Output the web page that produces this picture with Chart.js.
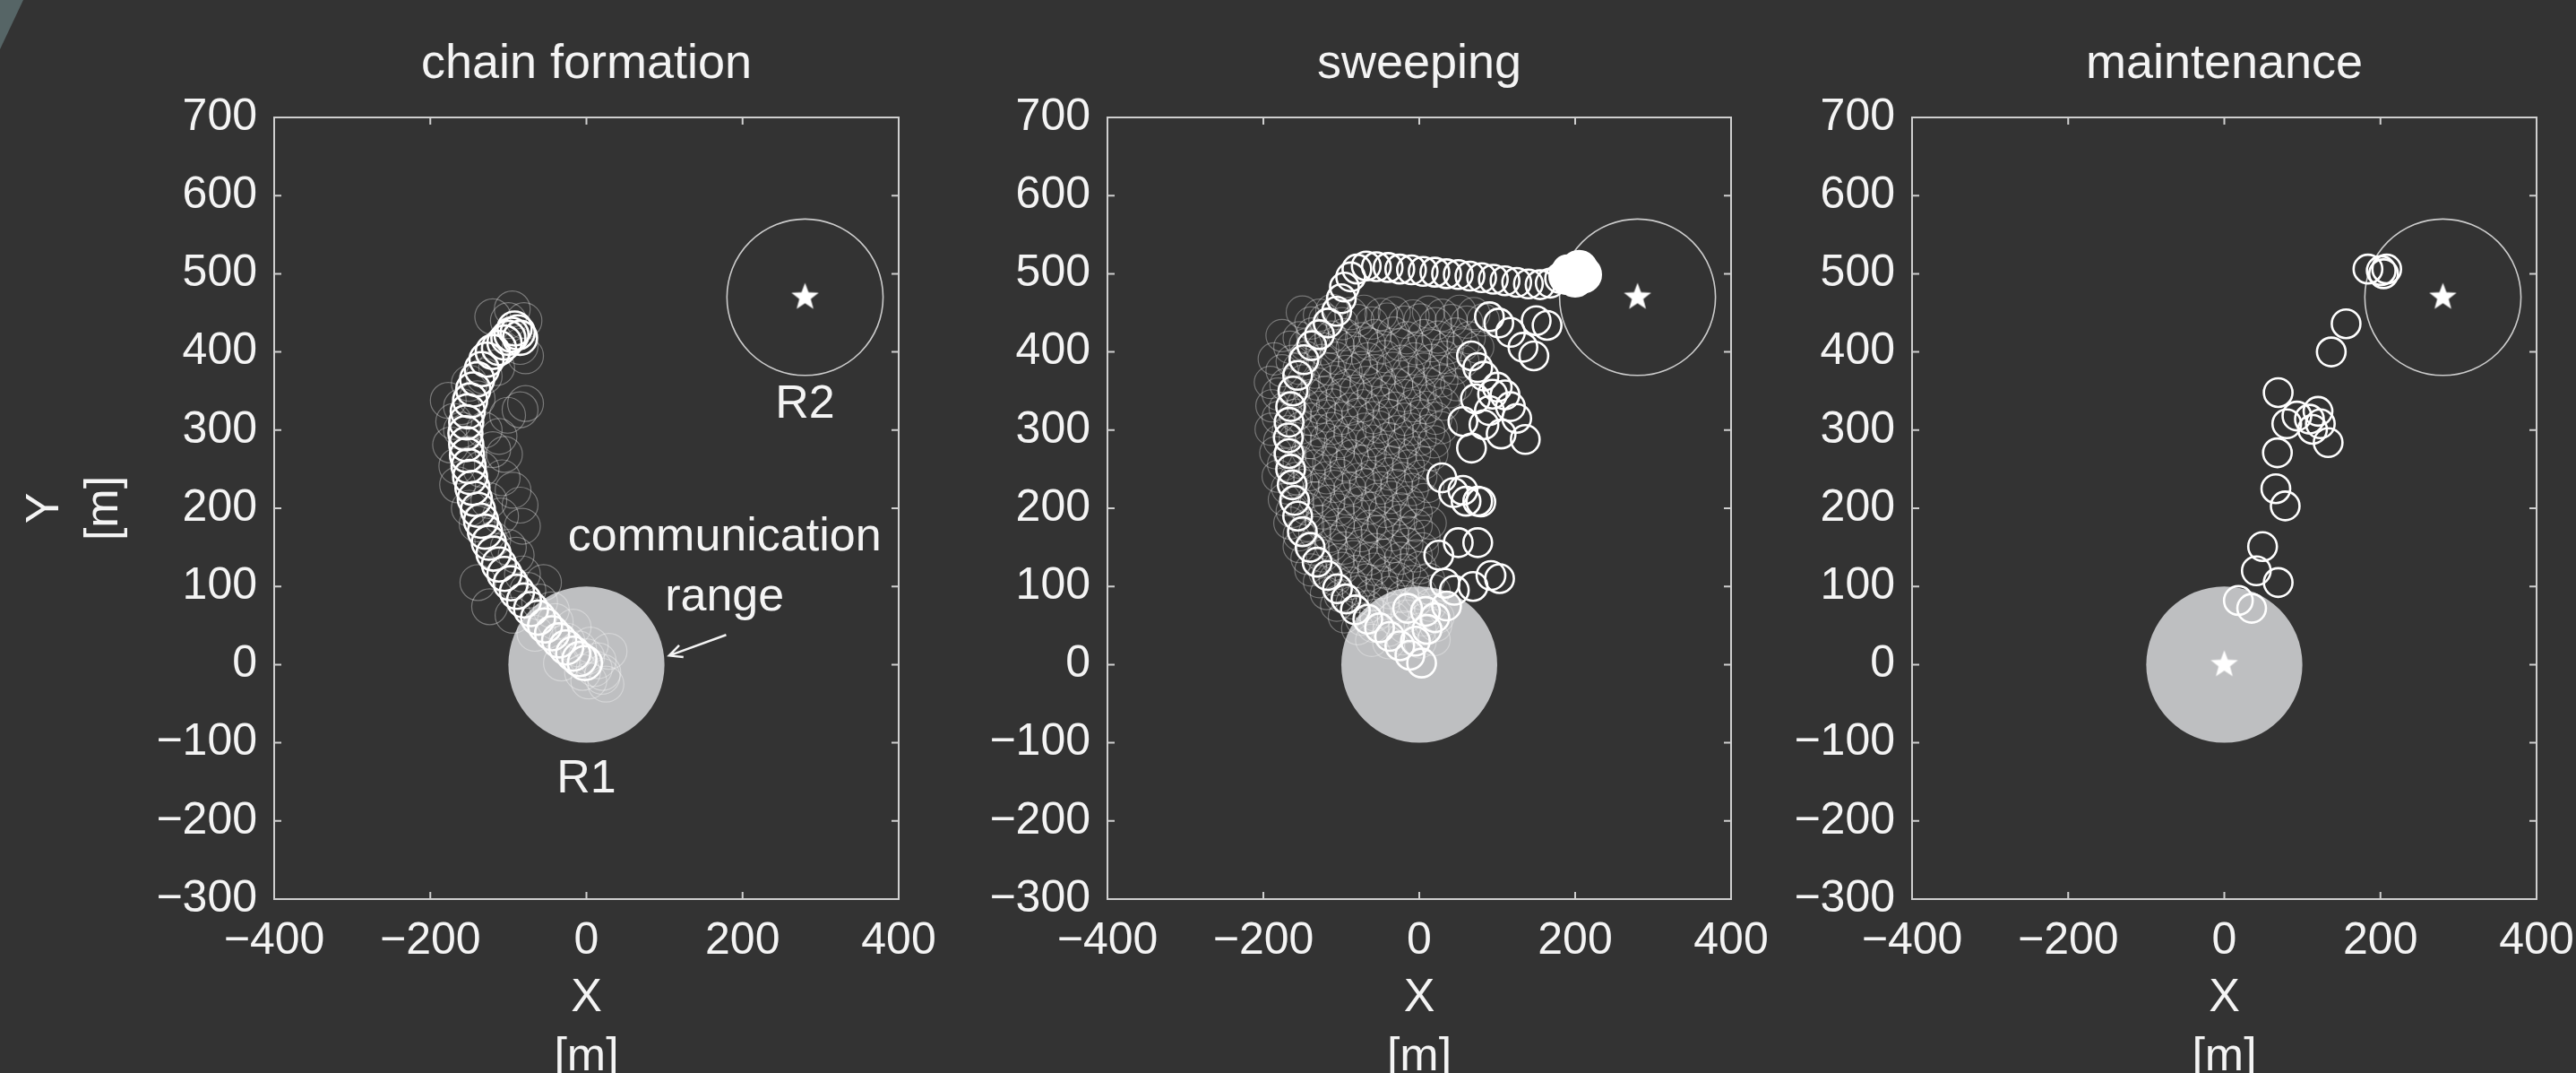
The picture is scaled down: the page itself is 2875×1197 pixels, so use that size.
<!DOCTYPE html>
<html>
<head>
<meta charset="utf-8">
<script src="https://cdn.jsdelivr.net/npm/chart.js@4.4.1/dist/chart.umd.min.js"></script>
<style>
  html, body { margin: 0; padding: 0; background: #333333; width: 2875px; height: 1197px; overflow: hidden; }
  .panel { position: absolute; top: 0; }
  #corner { position: absolute; left: 0; top: 0; width: 30px; height: 60px; background: #566566; clip-path: polygon(0 0, 26px 0, 0 55px); }
</style>
</head>
<body>
<div id="corner"></div>
<canvas id="chainChart" class="panel" width="1063" height="1220" style="left:0px"></canvas>
<canvas id="sweepChart" class="panel" width="936" height="1220" style="left:1056px"></canvas>
<canvas id="maintChart" class="panel" width="937" height="1220" style="left:1954px"></canvas>
<script>
const FONT = '"Liberation Sans", Arial, sans-serif';

const titles = ['chain formation', 'sweeping', 'maintenance'];
const xTicks = [-400, -200, 0, 200, 400];
const yTicks = [-300, -200, -100, 0, 100, 200, 300, 400, 500, 600, 700];
const r1 = [0, 0];
const r2 = [280, 470];
const commRange = 100;

// chain formation: robots (bold) and earlier positions (faint)
const chainX = [-92, -88, -96, -100, -85, -105, -112, -120, -128, -134, -140, -145, -149, -152, -154, -155, -154, -153, -151, -149, -146, -143, -139, -135, -130, -125, -119, -112, -105, -97, -89, -80, -71, -62, -53, -44, -35, -26, -17, -9, -2];
const chainY = [430, 425, 422, 418, 418, 412, 405, 400, 390, 378, 365, 352, 338, 324, 310, 296, 282, 268, 254, 240, 226, 212, 198, 184, 170, 156, 142, 128, 116, 104, 93, 82, 71, 60, 50, 40, 31, 22, 14, 7, 2];
const chainFaintX = [-85, -78, -101, -120, -85, -78, -170, -174, -166, -85, -82, -105, -108, -94, -177, -131, -151, -131, -112, -82, -55, -139, -124, 21, 3, -32, 29, -17, -66, -94, -10, 0, 10, 20, 5, -25, 15, 25, -5, -140, -160, -165, -150, -140, -120, -100, -90, -75, -60, -45, -40, -110, -125, -100, -80, -95, -115, -150, -135, -120, -160];
const chainFaintY = [326, 334, 319, 445, 407, 395, 311, 281, 254, 204, 177, 269, 239, 223, 338, 369, 269, 300, 292, 116, 105, 105, 74, -10, -21, 2, 17, 48, 40, 63, 20, 10, -5, -15, 25, 30, 5, -25, -10, 340, 300, 230, 200, 180, 160, 150, 140, 95, 80, 70, 55, 190, 210, 440, 440, 455, 380, 360, 250, 275, 330];

// sweeping
const sweepX = [3, -12, -25, -38, -51, -66, -82, -94, -105, -118, -131, -140, -150, -156, -160, -163, -165, -167, -168, -167, -165, -162, -156, -148, -138, -128, -117, -106, -100, -96, -88, -80, -68, -55, -40, -25, -10, 5, 20, 35, 50, 65, 80, 95, 110, 125, 140, 155, 168, 180, 190,
  102, 117, 133, 147, 164, 150, 90,
  67, 75, 83, 94, 100, 56, 67, 117, 136, 83, 110, 125, 90, 72, 105,
  29, 44, 56, 60, 75, 79,
  25, 50, 75, 92, 103, 69, 33, 8, -15,
  20, 35, 45, 10, -5];
const sweepY = [2, 12, 24, 36, 47, 58, 70, 84, 97, 114, 131, 150, 170, 190, 210, 230, 250, 270, 290, 310, 330, 350, 370, 390, 408, 422, 437, 452, 468, 483, 496, 506, 510, 509, 508, 506, 505, 503, 502, 500, 499, 497, 495, 493, 491, 489, 487, 486, 488, 494, 505,
  437, 425, 406, 395, 434, 440, 445,
  395, 380, 369, 346, 355, 311, 277, 330, 288, 307, 345, 315, 325, 340, 295,
  239, 220, 223, 209, 209, 208,
  140, 156, 156, 114, 110, 100, 104, 68, 72,
  60, 75, 95, 45, 30];
const sweepBlobX = [195, 205, 200, 210, 190];
const sweepBlobY = [500, 506, 494, 499, 497];
const sweepFaintX = [-150, -128, -112, -88, -71, -49, -32, -8, 12, 29, 52, 70,
  -176, -154, -137, -113, -96, -74, -57, -33, -16, 6, 24, 47, 64,
  -186, -163, -146, -124, -107, -83, -66, -44, -23, -6, 16, 33, 56,
  -191, -171, -148, -131, -109, -92, -68, -51, -29, -11, 12, 29, 48,
  -189, -172, -149, -128, -111, -88, -72, -48, -31, -8, 9, 31,
  -190, -168, -151, -129, -112, -89, -70, -52, -28, -11, 12, 28,
  -184, -166, -143, -126, -104, -86, -63, -46, -24, -6, 16,
  -181, -158, -141, -119, -101, -78, -61, -39, -21, 2,
  -173, -156, -134, -116, -93, -76, -54, -36, -14, 6,
  -166, -143, -126, -104, -86, -63, -46, -24, -4, 14,
  -154, -136, -113, -96, -74, -56, -34, -16, 4,
  -139, -121, -99, -81, -58, -41, -19, 1,
  -119, -101, -78, -61, -38, -21, 2, 19,
  -96, -74, -56, -33, -16, 6, 24,
  -61, -39, -21, 1, 19];
const sweepFaintY = [451, 447, 453, 449, 452, 448, 450, 446, 451, 447, 452, 449,
  421, 418, 423, 419, 422, 417, 421, 424, 418, 421, 419, 423, 418,
  391, 388, 393, 389, 392, 387, 391, 394, 388, 391, 389, 393, 388,
  361, 358, 363, 359, 362, 357, 361, 364, 358, 361, 359, 363, 358,
  331, 328, 333, 329, 332, 327, 331, 334, 328, 331, 329, 333,
  301, 298, 303, 299, 302, 297, 301, 304, 298, 301, 299, 303,
  271, 268, 273, 269, 272, 267, 271, 274, 268, 271, 269,
  241, 238, 243, 239, 242, 237, 241, 244, 238, 241,
  211, 208, 213, 209, 212, 207, 211, 214, 208, 211,
  181, 178, 183, 179, 182, 177, 181, 184, 178, 181,
  151, 148, 153, 149, 152, 147, 151, 154, 148,
  121, 118, 123, 119, 122, 117, 121, 124,
  91, 88, 93, 89, 92, 87, 91, 94,
  61, 58, 63, 59, 62, 57, 61,
  31, 28, 33, 29, 32];
const sweepFaint2X = [-139, -121, -99, -79, -61, -41, -19, 1, 21, 41, 61, 82,
  -166, -146, -124, -104, -86, -64, -46, -24, -4, 16, 36, 56, 75,
  -176, -154, -134, -116, -94, -74, -56, -34, -14, 6, 26, 46,
  -181, -161, -139, -121, -99, -81, -59, -41, -19, 1, 21, 39,
  -181, -159, -139, -119, -99, -79, -59, -39, -19, 1, 21,
  -179, -159, -139, -119, -101, -79, -61, -39, -19, 1, 19,
  -174, -154, -134, -116, -94, -76, -54, -36, -14, 6,
  -169, -149, -129, -109, -89, -69, -49, -29, -9, 11,
  -163, -144, -124, -104, -84, -64, -44, -24, -4,
  -154, -134, -114, -94, -74, -54, -34, -14, 6,
  -144, -124, -104, -84, -64, -44, -24, -4,
  -128, -108, -88, -68, -48, -28, -8, 12,
  -106, -86, -66, -46, -26, -6, 14,
  -79, -59, -39, -19, 1, 21];
const sweepFaint2Y = [437, 441, 436, 440, 437, 442, 438, 441, 436, 440, 438, 441,
  406, 409, 404, 408, 405, 410, 406, 409, 404, 408, 405, 409, 406,
  376, 379, 374, 378, 375, 380, 376, 379, 374, 378, 375, 379,
  346, 349, 344, 348, 345, 350, 346, 349, 344, 348, 345, 349,
  316, 319, 314, 318, 315, 320, 316, 319, 314, 318, 315,
  286, 289, 284, 288, 285, 290, 286, 289, 284, 288, 285,
  256, 259, 254, 258, 255, 260, 256, 259, 254, 258,
  226, 229, 224, 228, 225, 230, 226, 229, 224, 228,
  196, 199, 194, 198, 195, 200, 196, 199, 194,
  166, 169, 164, 168, 165, 170, 166, 169, 164,
  136, 139, 134, 138, 135, 140, 136, 139,
  106, 109, 104, 108, 105, 110, 106, 109,
  76, 79, 74, 78, 75, 80, 76,
  46, 49, 44, 48, 45, 50];

// maintenance
const maintX = [184, 201, 204, 208, 156, 137, 69, 80, 93, 109, 120, 123, 113, 133, 68, 66, 78, 49, 41, 69, 18, 35];
const maintY = [506, 504, 500, 506, 436, 400, 348, 308, 318, 314, 324, 308, 301, 284, 271, 225, 203, 151, 120, 105, 82, 72];

const toPoints = (xs, ys) => xs.map((x, i) => ({ x, y: ys[i] }));
const minus = v => String(v).replace('-', '\u2212');

function makeStar(r) {
  const c = document.createElement('canvas');
  c.width = c.height = Math.ceil(r * 2 + 2);
  const g = c.getContext('2d');
  g.fillStyle = '#ffffff';
  g.beginPath();
  for (let i = 0; i < 10; i++) {
    const a = -Math.PI / 2 + i * Math.PI / 5;
    const rr = i % 2 ? r * 0.42 : r;
    g.lineTo(c.width / 2 + rr * Math.cos(a), c.height / 2 + rr * Math.sin(a));
  }
  g.closePath();
  g.fill();
  return c;
}
const star = makeStar(16);

// disk, ring, labels, arrow and the matlab-like box
const stagePlugin = {
  id: 'stage',
  beforeDatasetsDraw(chart) {
    const { ctx, scales: { x, y } } = chart;
    const rx = x.getPixelForValue(commRange) - x.getPixelForValue(0);
    const ry = y.getPixelForValue(0) - y.getPixelForValue(commRange);
    ctx.save();
    ctx.fillStyle = '#bebfc1';
    ctx.beginPath();
    ctx.ellipse(x.getPixelForValue(r1[0]), y.getPixelForValue(r1[1]), rx, ry, 0, 0, Math.PI * 2);
    ctx.fill();
    ctx.strokeStyle = '#cccccc';
    ctx.lineWidth = 1.6;
    ctx.beginPath();
    ctx.ellipse(x.getPixelForValue(r2[0]), y.getPixelForValue(r2[1]), rx, ry, 0, 0, Math.PI * 2);
    ctx.stroke();
    ctx.restore();
  },
  afterDatasetsDraw(chart, args, opts) {
    const { ctx, scales: { x, y } } = chart;
    ctx.save();
    ctx.fillStyle = '#f4f4f4';
    ctx.font = '52px ' + FONT;
    ctx.textAlign = 'center';
    ctx.textBaseline = 'middle';
    (opts.labels || []).forEach(l => ctx.fillText(l.text, x.getPixelForValue(l.x), y.getPixelForValue(l.y)));
    if (opts.arrow) {
      const [x0, y0, x1, y1] = opts.arrow;
      const ax = x.getPixelForValue(x0), ay = y.getPixelForValue(y0);
      const bx = x.getPixelForValue(x1), by = y.getPixelForValue(y1);
      const ang = Math.atan2(by - ay, bx - ax);
      ctx.strokeStyle = '#f4f4f4';
      ctx.lineWidth = 2.5;
      ctx.beginPath();
      ctx.moveTo(ax, ay);
      ctx.lineTo(bx, by);
      ctx.moveTo(bx - 16 * Math.cos(ang - 0.45), by - 16 * Math.sin(ang - 0.45));
      ctx.lineTo(bx, by);
      ctx.lineTo(bx - 16 * Math.cos(ang + 0.45), by - 16 * Math.sin(ang + 0.45));
      ctx.stroke();
    }
    ctx.restore();
  },
  afterDraw(chart) {
    const { ctx, chartArea: { left, right, top, bottom }, scales: { x, y } } = chart;
    const tl = 8;
    ctx.save();
    ctx.strokeStyle = '#cfcfcf';
    ctx.lineWidth = 2;
    ctx.strokeRect(left, top, right - left, bottom - top);
    ctx.beginPath();
    xTicks.forEach(v => {
      const p = x.getPixelForValue(v);
      ctx.moveTo(p, bottom); ctx.lineTo(p, bottom - tl);
      ctx.moveTo(p, top); ctx.lineTo(p, top + tl);
    });
    yTicks.forEach(v => {
      const p = y.getPixelForValue(v);
      ctx.moveTo(left, p); ctx.lineTo(left + tl, p);
      ctx.moveTo(right, p); ctx.lineTo(right - tl, p);
    });
    ctx.stroke();
    ctx.restore();
  }
};

function circles(xs, ys, radius, color, width, fill) {
  return {
    data: toPoints(xs, ys),
    pointStyle: 'circle',
    pointRadius: radius,
    pointBorderColor: color,
    pointBorderWidth: width,
    pointBackgroundColor: fill || 'rgba(0,0,0,0)',
    showLine: false
  };
}

function stars(points) {
  return {
    data: points.map(p => ({ x: p[0], y: p[1] })),
    pointStyle: star,
    pointRadius: 16,
    showLine: false
  };
}

function makePanel(id, title, yAxisWidth, datasets, stage, showYTitle) {
  return new Chart(document.getElementById(id), {
    type: 'scatter',
    data: { datasets },
    plugins: [stagePlugin],
    options: {
      responsive: false,
      animation: false,
      devicePixelRatio: 1,
      events: [],
      layout: { padding: { left: 0, right: 60, top: 0, bottom: 0 } },
      plugins: {
        legend: { display: false },
        tooltip: { enabled: false },
        title: {
          display: true, text: title, color: '#f4f4f4', fullSize: false,
          font: { family: FONT, size: 54, weight: 'normal', lineHeight: 1.2 },
          padding: { top: 40, bottom: 26.2 }
        },
        stage
      },
      scales: {
        x: {
          type: 'linear', min: -400, max: 400,
          grid: { display: false, drawTicks: false },
          border: { display: false },
          afterBuildTicks: s => { s.ticks = xTicks.map(v => ({ value: v })); },
          afterFit: s => { s.height = 217; },
          ticks: { color: '#f4f4f4', padding: 17, maxRotation: 0, font: { family: FONT, size: 50 }, callback: minus },
          title: {
            display: true, text: ['X', '[m]'], color: '#f4f4f4',
            font: { family: FONT, size: 52, lineHeight: 1.27 },
            padding: { top: 0, bottom: 7 }
          }
        },
        y: {
          type: 'linear', min: -300, max: 700,
          grid: { display: false, drawTicks: false },
          border: { display: false },
          afterBuildTicks: s => { s.ticks = yTicks.map(v => ({ value: v })); },
          afterFit: s => { s.width = yAxisWidth; },
          ticks: { color: '#f4f4f4', padding: 19, font: { family: FONT, size: 50 }, callback: minus },
          title: {
            display: showYTitle, text: ['Y', '[m]'], color: '#f4f4f4',
            font: { family: FONT, size: 52, lineHeight: 1.27 },
            padding: { top: 18, bottom: 0 }
          }
        }
      }
    }
  });
}

makePanel('chainChart', titles[0], 306, [
  circles(chainFaintX, chainFaintY, 20, 'rgba(255,255,255,0.35)', 1.2),
  circles(chainX, chainY, 19, '#ffffff', 2.6),
  stars([r2])
], {
  labels: [
    { text: 'communication', x: 177, y: 162 },
    { text: 'range', x: 177, y: 86 },
    { text: 'R1', x: 0, y: -147 },
    { text: 'R2', x: 280, y: 332 }
  ],
  arrow: [179, 38, 106, 11.5]
}, true);

makePanel('sweepChart', titles[1], 180, [
  circles(sweepFaintX, sweepFaintY, 18, 'rgba(255,255,255,0.33)', 1.2),
  circles(sweepFaint2X, sweepFaint2Y, 18, 'rgba(255,255,255,0.33)', 1.2),
  circles(sweepX, sweepY, 16, '#ffffff', 2.6),
  circles(sweepBlobX, sweepBlobY, 20, '#ffffff', 2.6, '#ffffff'),
  stars([r2])
], { labels: [] }, false);

makePanel('maintChart', titles[2], 180, [
  circles(maintX, maintY, 16, '#ffffff', 2.6),
  stars([r1, r2])
], { labels: [] }, false);
</script>
</body>
</html>
